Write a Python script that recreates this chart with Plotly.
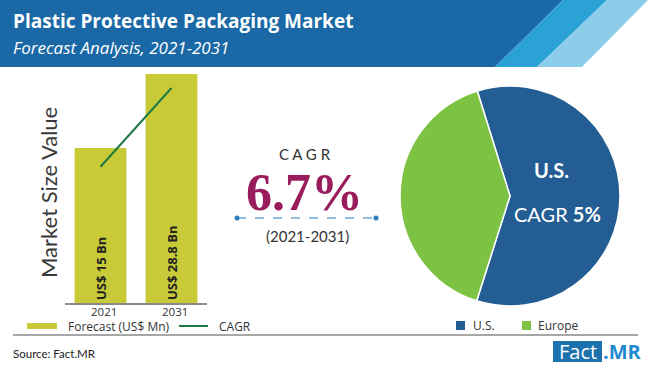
import plotly.graph_objects as go

W, H = 650, 368

# ---------------- data ----------------
years = ["2021", "2031"]
market_values = [15.0, 28.8]            # US$ Bn
bar_labels = ["US$ 15 Bn", "US$ 28.8 Bn"]
cagr_line = [11.5, 26.2]                # decorative CAGR trend line
axis_floor = -13.9                      # visual baseline of the value axis

regions = ["U.S.", "Europe"]
region_share = [59.7, 40.3]

overall_cagr = "6.7%"
period = "(2021-2031)"
us_cagr = "5%"


def px(x, y):
    return x / W, 1 - y / H


def path(points):
    s = ""
    for i, (x, y) in enumerate(points):
        X, Y = px(x, y)
        s += ("M" if i == 0 else "L") + f"{X:.5f},{Y:.5f} "
    return s + "Z"


FONT = "Open Sans"
DARK = "#333333"

fig = go.Figure()

fig.add_trace(go.Bar(
    x=years, y=[v - axis_floor for v in market_values], base=axis_floor,
    marker=dict(color="#c9ca37", line=dict(width=0)),
    text=bar_labels, textposition="inside", insidetextanchor="start",
    textangle=-90, textfont=dict(family=FONT, size=13, color="#222222", weight="bold"),
    width=0.73, showlegend=False, hoverinfo="skip",
))
fig.add_trace(go.Scatter(
    x=years, y=cagr_line, mode="lines",
    line=dict(color="#1d7a45", width=2), showlegend=False, hoverinfo="skip",
))

fig.add_trace(go.Pie(
    labels=regions, values=region_share, sort=False, direction="clockwise",
    rotation=-17.3, textinfo="none", hoverinfo="skip", showlegend=False,
    marker=dict(colors=["#235d93", "#7dc243"], line=dict(color="white", width=1.5)),
    domain=dict(x=[400 / W, 620 / W], y=[1 - 307 / H, 1 - 85 / H]),
))

shapes = [
    dict(type="path", path=path([(0, 0), (563, 0), (495, 67), (0, 67)]),
         xref="paper", yref="paper", fillcolor="#1a69a6", line=dict(width=0), layer="below"),
    dict(type="path", path=path([(563, 0), (607, 0), (537, 67), (495, 67)]),
         xref="paper", yref="paper", fillcolor="#2ba2d6", line=dict(width=0), layer="below"),
    dict(type="path", path=path([(607, 0), (648, 0), (582, 67), (537, 67)]),
         xref="paper", yref="paper", fillcolor="#8ccdea", line=dict(width=0), layer="below"),
    # footer separator
    dict(type="line", x0=13 / W, x1=638 / W, y0=1 - 335 / H, y1=1 - 335 / H,
         xref="paper", yref="paper", line=dict(color="#8a8a8a", width=1.5)),
    # bar legend swatch & line
    dict(type="rect", x0=27 / W, x1=57 / W, y0=1 - 329 / H, y1=1 - 323 / H,
         xref="paper", yref="paper", fillcolor="#c9ca37", line=dict(width=0)),
    dict(type="line", x0=179 / W, x1=208 / W, y0=1 - 326 / H, y1=1 - 326 / H,
         xref="paper", yref="paper", line=dict(color="#1d7a45", width=2)),
    # pie legend squares
    dict(type="rect", x0=456 / W, x1=465 / W, y0=1 - 330 / H, y1=1 - 321 / H,
         xref="paper", yref="paper", fillcolor="#235d93", line=dict(width=0)),
    dict(type="rect", x0=522 / W, x1=531 / W, y0=1 - 330 / H, y1=1 - 321 / H,
         xref="paper", yref="paper", fillcolor="#7dc243", line=dict(width=0)),
    # dotted line under CAGR
    dict(type="line", x0=237 / W, x1=376 / W, y0=1 - 218 / H, y1=1 - 218 / H,
         xref="paper", yref="paper", line=dict(color="#2b7fc0", width=1.2, dash="dash")),
    dict(type="circle", x0=234.5 / W, x1=239.5 / W, y0=1 - 220.5 / H, y1=1 - 215.5 / H,
         xref="paper", yref="paper", fillcolor="#2b7fc0", line=dict(width=0)),
    dict(type="circle", x0=373.5 / W, x1=378.5 / W, y0=1 - 220.5 / H, y1=1 - 215.5 / H,
         xref="paper", yref="paper", fillcolor="#2b7fc0", line=dict(width=0)),
    # logo box
    dict(type="rect", x0=553 / W, x1=602 / W, y0=1 - 362 / H, y1=1 - 341 / H,
         xref="paper", yref="paper", fillcolor="#1b72ad", line=dict(width=0)),
]


def ann(text, x, y, size, color=DARK, family=FONT, xanchor="center", yanchor="middle",
        textangle=0, **kw):
    X, Y = px(x, y)
    return dict(text=text, x=X, y=Y, xref="paper", yref="paper", showarrow=False,
                xanchor=xanchor, yanchor=yanchor, textangle=textangle,
                font=dict(family=family, size=size, color=color), **kw)


annotations = [
    ann("<b>Plastic Protective Packaging Market</b>", 11, 21, 19, "white", "Open Sans", xanchor="left"),
    ann("<i>Forecast Analysis, 2021-2031</i>", 11, 47, 17, "white", "Open Sans", xanchor="left"),
    ann("Market Size Value", 48, 193, 22, "#3a3a3a", "Lato", textangle=-90),
    ann("Forecast (US$ Mn)", 67, 326.5, 12, DARK, FONT, xanchor="left", borderpad=0),
    ann("CAGR", 218, 326.5, 12, DARK, FONT, xanchor="left", borderpad=0),
    ann("U.S.", 471, 325.5, 12, DARK, FONT, xanchor="left"),
    ann("Europe", 536, 325.5, 12, DARK, FONT, xanchor="left"),
    ann("C A G R", 305, 154, 15, DARK, "Lato"),
    ann(f"<b>{overall_cagr}</b>", 304, 192, 52, "#9b1c5d", "Liberation Serif"),
    ann(period, 307, 236, 15, DARK, "Lato"),
    ann("<b>U.S.</b>", 551, 170, 20, "white", "Lato"),
    ann(f"CAGR <b>{us_cagr}</b>", 557, 214, 20, "white", "Lato"),
    ann("Source: Fact.MR", 11, 353, 11.5, "#222222", "Lato", xanchor="left"),
    ann("Fact", 577.5, 351.5, 20, "white", "Open Sans"),
    ann("<b>.MR</b>", 601, 351.5, 20, "#1f8ad0", "Open Sans", xanchor="left"),
]

# category labels placed on the x (category) scale, just under the baseline
for i, yr in enumerate(years):
    annotations.append(dict(text=yr, x=i, xref="x", y=1 - 311 / H, yref="paper",
                            showarrow=False, xanchor="center", yanchor="middle",
                            xshift=3, borderpad=0,
                            font=dict(family=FONT, size=11.5, color=DARK)))

fig.update_layout(
    width=W, height=H, margin=dict(l=0, r=0, t=0, b=0),
    paper_bgcolor="white", plot_bgcolor="rgba(0,0,0,0)",
    shapes=shapes, annotations=annotations, bargap=0.27,
    xaxis=dict(type="category", domain=[65 / W, 207 / W], range=[-0.5, 1.5], showgrid=False,
               showline=True, linecolor="#8a8a8a", linewidth=2, ticks="",
               showticklabels=False, fixedrange=True),
    yaxis=dict(domain=[1 - 303 / H, 1 - 70 / H], range=[axis_floor, 29.55],
               visible=False, fixedrange=True),
)

fig.write_html("out.html", config={"displayModeBar": False},
               post_script="document.body.style.margin='0';document.body.style.overflow='hidden';")
